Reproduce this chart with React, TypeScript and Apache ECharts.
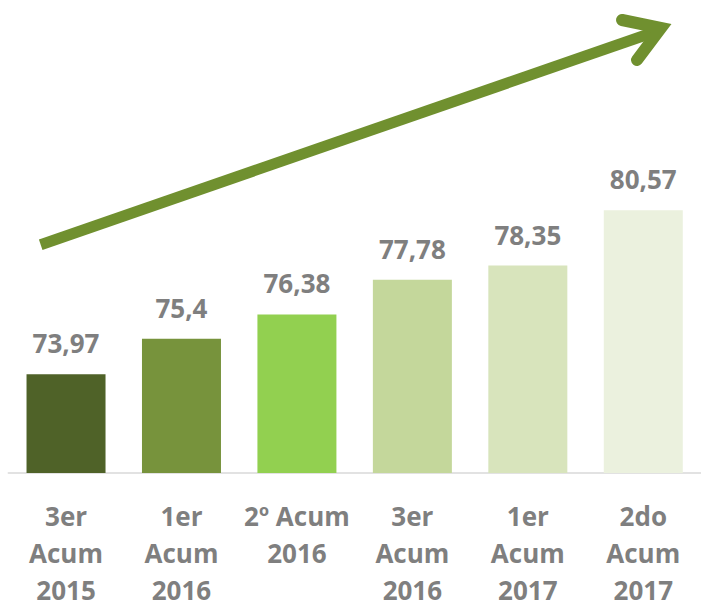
import React, { useEffect, useRef } from "react";
import * as echarts from "echarts";

const categories = [
  "3er\nAcum\n2015",
  "1er\nAcum\n2016",
  "2º Acum\n2016",
  "3er\nAcum\n2016",
  "1er\nAcum\n2017",
  "2do\nAcum\n2017",
];
const values = [73.97, 75.4, 76.38, 77.78, 78.35, 80.57];
const barColors = ["#4f6228", "#77933c", "#92d050", "#c4d79b", "#d8e4bc", "#ebf1de"];

const FONT = "'Open Sans', 'Noto Sans', sans-serif";
const GRAY = "#7f7f7f";
const ARROW = "#70902f";

export default function App() {
  const ref = useRef<HTMLDivElement>(null);
  useEffect(() => {
    if (!ref.current) return;
    const chart = echarts.init(ref.current, undefined, { renderer: "svg" });
    chart.setOption({
      animation: false,
      grid: { left: 8.3, width: 698.4, top: 25.7, height: 451.3, containLabel: false },
      xAxis: {
        type: "category",
        data: categories,
        axisLine: { show: true, lineStyle: { color: "#d9d9d9", width: 1.5 } },
        axisTick: { show: false },
        axisLabel: {
          interval: 0,
          margin: 24,
          color: GRAY,
          fontFamily: FONT,
          fontWeight: "bold",
          fontSize: 26,
          lineHeight: 37,
        },
      },
      yAxis: { type: "value", min: 70, max: 88, show: false, splitLine: { show: false } },
      series: [
        {
          type: "bar",
          barWidth: 79,
          data: values.map((v, i) => ({ value: v, itemStyle: { color: barColors[i] } })),
          label: {
            show: true,
            position: "top",
            distance: 18,
            color: GRAY,
            fontFamily: FONT,
            fontWeight: "bold",
            fontSize: 26,
            formatter: (p: any) => String(p.value).replace(".", ","),
          },
        },
      ],
      graphic: [
        {
          type: "line",
          shape: { x1: 40.7, y1: 244.7, x2: 656, y2: 31.5 },
          style: { stroke: ARROW, lineWidth: 11, lineCap: "butt" },
        },
        {
          type: "polyline",
          shape: { points: [[622, 20], [661, 28], [637, 60]] },
          style: { stroke: ARROW, lineWidth: 12, lineCap: "round", lineJoin: "miter", fill: null },
        },
      ],
    });
    return () => chart.dispose();
  }, []);
  return (
    <div
      ref={ref}
      style={{ position: "absolute", left: 0, top: 0, width: 701, height: 608, background: "#fff" }}
    />
  );
}
